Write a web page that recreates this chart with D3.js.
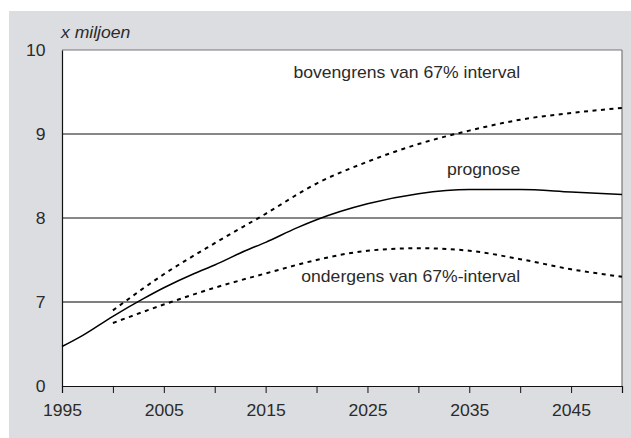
<!DOCTYPE html>
<html>
<head>
<meta charset="utf-8">
<script src="https://cdn.jsdelivr.net/npm/d3@7"></script>
<style>
  body { margin: 0; background: #fff; }
  text { font-family: "Liberation Sans", Arial, sans-serif; fill: #2b2b2b; }
</style>
</head>
<body>
<div id="chart"></div>
<script>
// Data (x miljoen)
const years = [1995, 1997, 2000, 2003, 2005, 2008, 2010, 2013, 2015, 2018, 2020, 2025, 2030, 2035, 2040, 2045, 2050];
const prognose = [6.47, 6.60, 6.83, 7.04, 7.17, 7.34, 7.44, 7.61, 7.71, 7.88, 7.98, 8.17, 8.29, 8.34, 8.34, 8.31, 8.28];

const bandYears = [2000, 2005, 2010, 2015, 2020, 2025, 2030, 2035, 2040, 2045, 2050];
const bovengrens = [6.90, 7.33, 7.70, 8.05, 8.41, 8.67, 8.88, 9.04, 9.17, 9.25, 9.31];
const ondergrens = [6.75, 6.97, 7.17, 7.34, 7.50, 7.61, 7.64, 7.61, 7.51, 7.39, 7.30];

const yTicks = [6, 7, 8, 9, 10];          // bottom of the broken axis is labelled 0
const yTickLabels = ["0", "7", "8", "9", "10"];
const xTicks = d3.range(1995, 2051, 5);
const xTickLabels = [1995, 2005, 2015, 2025, 2035, 2045];

const W = 631, H = 438;
const margin = { top: 50, right: 9, bottom: 52, left: 62 };
const width = W - margin.left - margin.right;
const height = H - margin.top - margin.bottom;
const stretch = "scale(1.1,1)";

const svg = d3.select("#chart").append("svg")
  .attr("width", W)
  .attr("height", H);

// grey panel
svg.append("rect")
  .attr("x", 9).attr("y", 11)
  .attr("width", W - 9).attr("height", H - 11)
  .attr("fill", "#dcdde0");

const g = svg.append("g")
  .attr("transform", `translate(${margin.left},${margin.top})`);

g.append("rect")
  .attr("width", width).attr("height", height)
  .attr("fill", "#fff");

const x = d3.scaleLinear().domain([1995, 2050]).range([0, width]);
const y = d3.scaleLinear().domain([6, 10]).range([height, 0]);

// gridlines at 7, 8, 9
g.selectAll(".grid")
  .data([7, 8, 9])
  .enter().append("line")
  .attr("x1", 0).attr("x2", width)
  .attr("y1", d => y(d)).attr("y2", d => y(d))
  .attr("stroke", d => d === 7 ? "#555" : "#111")
  .attr("stroke-width", d => d === 7 ? 1.3 : 1);

// top and right frame
g.append("line").attr("x1", 0).attr("x2", width).attr("y1", 0).attr("y2", 0)
  .attr("stroke", "#777").attr("stroke-width", 1.2);
g.append("line").attr("x1", width).attr("x2", width).attr("y1", 0).attr("y2", height)
  .attr("stroke", "#777").attr("stroke-width", 1.2);

// x axis
const xAxis = g.append("g")
  .attr("transform", `translate(0,${height})`)
  .call(d3.axisBottom(x)
    .tickValues(xTicks)
    .tickSize(7)
    .tickFormat(d => xTickLabels.includes(d) ? d : ""));
xAxis.select(".domain").attr("stroke", "#111").attr("stroke-width", 1.2);
xAxis.selectAll(".tick line").attr("stroke", "#111");
xAxis.selectAll("text")
  .attr("y", 19).attr("dy", "0.71em")
  .attr("transform", stretch)
  .style("font-size", "16px")
  .style("fill", "#2b2b2b");

// y axis
const yAxis = g.append("g")
  .call(d3.axisLeft(y)
    .tickValues(yTicks)
    .tickSize(0)
    .tickPadding(15)
    .tickFormat((d, i) => yTickLabels[i]));
yAxis.select(".domain").attr("stroke", "#111").attr("stroke-width", 1.2);
yAxis.selectAll("text")
  .attr("transform", stretch)
  .style("font-size", "16px")
  .style("fill", "#2b2b2b");

// lines
const line = xs => d3.line()
  .x((d, i) => x(xs[i]))
  .y(d => y(d))
  .curve(d3.curveMonotoneX);

g.append("path")
  .datum(prognose)
  .attr("fill", "none")
  .attr("stroke", "#000")
  .attr("stroke-width", 1.5)
  .attr("d", line(years));

[bovengrens, ondergrens].forEach(series => {
  g.append("path")
    .datum(series)
    .attr("fill", "none")
    .attr("stroke", "#000")
    .attr("stroke-width", 2)
    .attr("stroke-dasharray", "4,4.5")
    .attr("d", line(bandYears));
});

// labels
const labels = [
  { text: "bovengrens van 67% interval", year: 2040, value: 9.67 },
  { text: "prognose", year: 2040, value: 8.51 },
  { text: "ondergens van 67%-interval", year: 2040, value: 7.24 }
];
labels.forEach(l => {
  g.append("text")
    .attr("transform", `translate(${x(l.year)},${y(l.value)}) ${stretch}`)
    .attr("text-anchor", "end")
    .style("font-size", "16px")
    .text(l.text);
});

// unit
svg.append("text")
  .attr("transform", `translate(61,38) ${stretch}`)
  .style("font-size", "16px")
  .style("font-style", "italic")
  .text("x miljoen");
</script>
</body>
</html>
